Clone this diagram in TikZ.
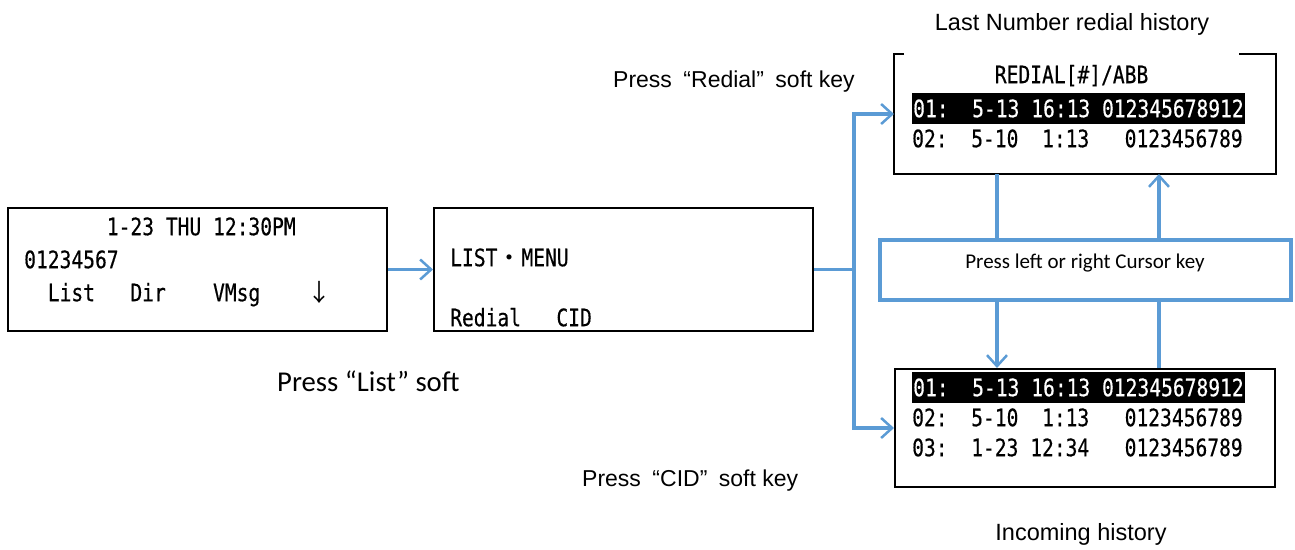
\documentclass[tikz,border=0pt]{standalone}
\usepackage{fontspec}
\setmainfont{Liberation Sans}
\setmonofont{DejaVu Sans Mono}[FakeStretch=0.817, FakeBold=0.4]
\newfontfamily\cjk{Noto Sans CJK JP}
\newfontfamily\calibri{Carlito}
\usetikzlibrary{arrows.meta, positioning}

\definecolor{keyblue}{RGB}{91,155,213}
\newcommand\selrow[1]{{\setlength\fboxsep{1pt}\colorbox{black}{\rule[-6pt]{0pt}{29pt}\color{white}#1}}}

\begin{document}
\begin{tikzpicture}[
	x=1pt, y=-1pt,
	node distance=45pt,
	screen/.style={rectangle, draw, line width=2pt, minimum width=379pt, minimum height=123pt},
	lcd/.style={font=\fontsize{24}{30}\selectfont\ttfamily\frenchspacing, align=left, inner sep=0pt},
	note/.style={font=\fontsize{23}{27}\selectfont, inner sep=0pt, anchor=base west},
	title/.style={font=\fontsize{23.5}{28}\selectfont, inner sep=0pt, anchor=base},
	line/.style={draw, keyblue, line width=3.5pt, -{Straight Barb[length=11pt, width=20pt, line width=2.5pt]}},
	wire/.style={draw, keyblue, line width=3.5pt},
	]
	\useasboundingbox (0,0) rectangle (1295,549);

	% screens
	\node [screen] (idle) at (197.5,269.5) {};
	\node [screen, right= of idle] (menu) {};
	\node [screen, draw=none, minimum width=380pt, minimum height=118pt] (redial) at (1085,114) {};
	\node [screen, minimum width=380pt, minimum height=118pt] (incoming) at (1085,428) {};
	\node [rectangle, draw=keyblue, line width=4pt, minimum width=411pt, minimum height=60pt,
		font=\fontsize{21}{25}\selectfont\calibri, text height=12pt, text depth=16pt] (cursor) at (1085,270) {Press left or right Cursor key};

	% what each screen shows
	\node [lcd, below right=7pt and 17pt of idle.north west] (idletext) {\strut~~~~~~~1-23 THU 12:30PM\\[3pt]01234567\\[3pt]~~List~~~Dir~~~~VMsg~~~~{\cjk ↓}};
	\node [lcd, below right=38pt and 17pt of menu.north west] (menutext) {\strut LIST{\cjk ・}MENU\\[30pt]Redial~~~CID};
	\node [lcd, below right=8pt and 18pt of redial.north west] (redialtext) {\strut~~~~~~~REDIAL[\#]/ABB\\\selrow{01:~~5-13 16:13 012345678912}\\02:~~5-10~~1:13~~~0123456789};
	\node [lcd, below right=4pt and 18pt of incoming.north west] (incomingtext) {\selrow{01:~~5-13 16:13 012345678912}\\02:~~5-10~~1:13~~~0123456789\\03:~~1-23 12:34~~~0123456789};
	\draw [line width=2pt] ([xshift=10pt]redial.north west) -| (redial.south west) -| (redial.north east) -- ([xshift=-37pt]redial.north east);

	% labels
	\node [note, font=\fontsize{28.7}{34}\selectfont\calibri] (listkey) at (277,391) {Press “List” soft};
	\node [note] (redialkey) at (613,87) {Press\enspace“Redial”\enspace soft key};
	\node [note] (cidkey) at (582,486) {Press\enspace“CID”\enspace soft key};
	\node [title] (redialtitle) at (1072,30) {Last Number redial history};
	\node [title] (incomingtitle) at (1081,540) {Incoming history};

	% connectors
	\draw [line] (idle) -- (menu);
	\coordinate (split) at ([xshift=40pt]menu.east);
	\path [wire] (menu.east) -- (split);
	\path [line] (split) |- (redial.west);
	\path [line] (split) |- (incoming.west);
	\path [wire] ([xshift=-88pt]redial.south) -- ([xshift=-88pt]cursor.north);
	\path [line] ([xshift=-88pt]cursor.south) -- ([xshift=-88pt]incoming.north);
	\path [wire] ([xshift=74pt]incoming.north) -- ([xshift=74pt]cursor.south);
	\path [line] ([xshift=74pt]cursor.north) -- ([xshift=74pt]redial.south);
\end{tikzpicture}
\end{document}
